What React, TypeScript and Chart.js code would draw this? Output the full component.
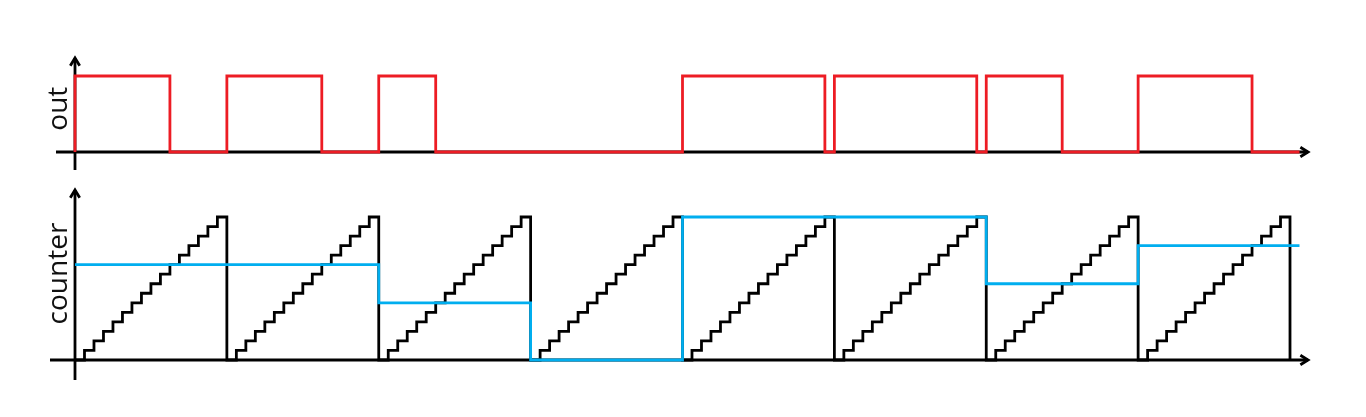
import React, { useEffect, useRef } from "react";
import Chart, { ChartConfiguration, Plugin } from "chart.js/auto";

// one ramp of the counter, value per clock tick (16 ticks per PWM period)
const counterSteps = [0, 1, 2, 3, 4, 5, 6, 7, 8, 9, 10, 11, 12, 13, 14, 15];
// compare register (blue), one level per period
const compareLevels = [10, 10, 6, 0, 15, 15, 8, 12];
// output (red): number of ticks the output stays high in each period
const outHighTicks = [10, 10, 6, 0, 15, 15, 8, 12];
// where the red / blue traces stop, in ticks
const traceEnd = 129;
// where the axis arrows end, in ticks
const axisEnd = 129.9;

const axisLabels = { out: "out", counter: "counter" };

type Pt = { x: number; y: number };

function buildCounter(): Pt[] {
  const period = counterSteps.length;
  const pts: Pt[] = [];
  compareLevels.forEach((_, p) => {
    counterSteps.forEach((v, k) => pts.push({ x: p * period + k, y: v }));
  });
  pts.push({ x: compareLevels.length * period, y: counterSteps[0] });
  return pts;
}

function buildCompare(): Pt[] {
  const period = counterSteps.length;
  const pts: Pt[] = compareLevels.map((v, p) => ({ x: p * period, y: v }));
  pts.push({ x: traceEnd, y: compareLevels[compareLevels.length - 1] });
  return pts;
}

function buildOut(): Pt[] {
  const period = counterSteps.length;
  const pts: Pt[] = [{ x: 0, y: 0 }];
  outHighTicks.forEach((high, p) => {
    if (high > 0) {
      pts.push({ x: p * period, y: 1 });
      pts.push({ x: p * period + high, y: 0 });
    }
  });
  pts.push({ x: traceEnd, y: 0 });
  return pts;
}

function arrowLine(ctx: CanvasRenderingContext2D, x1: number, y1: number, x2: number, y2: number) {
  ctx.beginPath();
  ctx.moveTo(x1, y1);
  ctx.lineTo(x2, y2);
  ctx.stroke();
  const a = Math.atan2(y2 - y1, x2 - x1);
  const len = 9;
  const spread = 0.55;
  ctx.beginPath();
  ctx.moveTo(x2 - len * Math.cos(a - spread), y2 - len * Math.sin(a - spread));
  ctx.lineTo(x2, y2);
  ctx.lineTo(x2 - len * Math.cos(a + spread), y2 - len * Math.sin(a + spread));
  ctx.stroke();
}

// draws the arrowed axes and the rotated panel labels
const axesPlugin: Plugin<"line"> = {
  id: "pwmAxes",
  beforeDatasetsDraw(chart) {
    const { ctx, scales } = chart;
    const x = scales.x;
    const yOut = scales.yOut;
    const yCnt = scales.yCounter;
    const x0 = x.getPixelForValue(0);
    const xEnd = x.getPixelForValue(axisEnd);
    const out0 = yOut.getPixelForValue(0);
    const cnt0 = yCnt.getPixelForValue(0);

    ctx.save();
    ctx.strokeStyle = "#000";
    ctx.lineWidth = 2.8;
    ctx.lineJoin = "miter";
    ctx.lineCap = "butt";

    // top panel
    arrowLine(ctx, x0 - 19, out0, xEnd, out0);
    arrowLine(ctx, x0, out0 + 18, x0, out0 - 94);
    // bottom panel
    arrowLine(ctx, x0 - 25, cnt0, xEnd, cnt0);
    arrowLine(ctx, x0, cnt0 + 20, x0, cnt0 - 170);

    ctx.fillStyle = "#111";
    ctx.font = "28px 'Open Sans'";
    ctx.textAlign = "center";
    ctx.textBaseline = "alphabetic";
    const labels: [string, number][] = [
      [axisLabels.out, yOut.getPixelForValue(0.57)],
      [axisLabels.counter, yCnt.getPixelForValue(9.07)],
    ];
    labels.forEach(([text, cy]) => {
      ctx.save();
      ctx.translate(x0 - 8, cy);
      ctx.rotate(-Math.PI / 2);
      ctx.fillText(text, 0, 0);
      ctx.restore();
    });
    ctx.restore();
  },
};

export default function App() {
  const canvasRef = useRef<HTMLCanvasElement | null>(null);
  const chartRef = useRef<Chart<"line", Pt[]> | null>(null);

  useEffect(() => {
    const canvas = canvasRef.current;
    if (!canvas) return;
    if (chartRef.current) chartRef.current.destroy();

    const line = {
      pointRadius: 0,
      borderWidth: 2.8,
      fill: false,
      tension: 0,
      stepped: true as const,
    };

    const config: ChartConfiguration<"line", Pt[]> = {
      type: "line",
      data: {
        datasets: [
          { ...line, label: "compare", data: buildCompare(), borderColor: "#00AEEF", yAxisID: "yCounter" },
          { ...line, label: "counter", data: buildCounter(), borderColor: "#000", yAxisID: "yCounter" },
          { ...line, label: "out", data: buildOut(), borderColor: "#ED1C24", yAxisID: "yOut" },
        ],
      },
      options: {
        animation: false,
        responsive: true,
        maintainAspectRatio: false,
        events: [],
        parsing: false,
        layout: { padding: { left: 46.52, right: 47.52, top: 40, bottom: 17 } },
        scales: {
          x: { type: "linear", min: -3, max: 131, display: false },
          yOut: { type: "linear", min: -3.263, max: 1.474, display: false },
          yCounter: { type: "linear", min: -4.196, max: 33.566, display: false },
        },
        plugins: {
          legend: { display: false },
          tooltip: { enabled: false },
        },
      },
      plugins: [axesPlugin],
    };

    chartRef.current = new Chart(canvas, config);
    return () => {
      if (chartRef.current) {
        chartRef.current.destroy();
        chartRef.current = null;
      }
    };
  }, []);

  return (
    <div style={{ position: "absolute", left: 0, top: 0, width: 1366, height: 417, background: "#fff" }}>
      <canvas ref={canvasRef}></canvas>
    </div>
  );
}
